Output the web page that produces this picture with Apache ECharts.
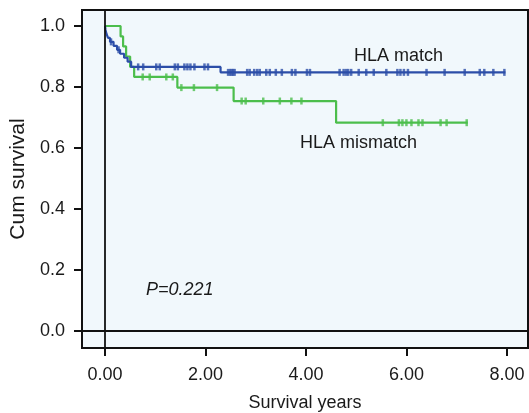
<!DOCTYPE html>
<html>
<head>
<meta charset="utf-8">
<script src="https://cdn.jsdelivr.net/npm/echarts@6/dist/echarts.min.js"></script>
<style>html,body{margin:0;padding:0;background:#fff}#c{width:529px;height:413px}</style>
</head>
<body>
<div id="c"></div>
<script>
// ---- data ----
var xTicks = [0, 2, 4, 6, 8];
var yTicks = [0, 0.2, 0.4, 0.6, 0.8, 1.0];

// HLA match: event times and survival after each event
var matchTimes = [0, 0.01, 0.03, 0.06, 0.10, 0.17, 0.24, 0.30, 0.38, 0.45, 0.52, 2.30];
var matchSurv  = [1.0, 0.987, 0.974, 0.961, 0.948, 0.935, 0.922, 0.909, 0.896, 0.883, 0.866, 0.848];
var matchEnd = 7.97;
var matchCensor = [0.12, 0.27, 0.66, 0.76, 1.02, 1.09, 1.39, 1.45, 1.58, 1.64, 1.70, 1.78, 1.98, 2.05,
  2.45, 2.49, 2.52, 2.55, 2.58, 2.83, 2.88, 2.97, 3.03, 3.08, 3.21, 3.28, 3.40, 3.52, 3.72, 3.79,
  4.02, 4.08, 4.67, 4.75, 4.80, 4.84, 4.90, 5.05, 5.20, 5.35, 5.60, 5.82, 5.88, 5.95, 6.03,
  6.40, 6.76, 7.16, 7.46, 7.55, 7.73, 7.95];

// HLA mismatch
var mismatchTimes = [0, 0.31, 0.36, 0.42, 0.50, 0.58, 1.44, 2.56, 4.60];
var mismatchSurv  = [1.0, 0.966, 0.933, 0.900, 0.866, 0.833, 0.798, 0.754, 0.683];
var mismatchEnd = 7.22;
var mismatchCensor = [0.75, 0.89, 1.22, 1.35, 1.52, 1.77, 2.23, 2.72, 2.80, 3.15, 3.48, 3.71, 3.91,
  5.53, 5.85, 5.92, 6.00, 6.10, 6.24, 6.32, 6.68, 6.80, 7.20];

var matchColor = '#2c4ea8';
var mismatchColor = '#4cbe4c';

function stepData(times, surv, end) {
  var d = [];
  for (var i = 0; i < times.length; i++) d.push([times[i], surv[i]]);
  d.push([end, surv[surv.length - 1]]);
  return d;
}
function survAt(times, surv, t) {
  var s = surv[0];
  for (var i = 0; i < times.length; i++) { if (times[i] <= t) s = surv[i]; }
  return s;
}
function censorData(times, surv, cens) {
  return cens.map(function (t) { return [t, survAt(times, surv, t)]; });
}

var FONT = 'Liberation Sans, Arial, sans-serif';
var TXT = '#1a1a1a';
var chart = echarts.init(document.getElementById('c'), null, {renderer: 'canvas'});
chart.setOption({
  animation: false,
  grid: {left: 82, right: 1, top: 10, bottom: 65, show: true, backgroundColor: '#f1f8fc',
         borderColor: '#111', borderWidth: 2, outerBoundsMode: 'none', containLabel: false},
  xAxis: {
    type: 'value', min: -0.458, max: 8.42,
    name: 'Survival years', nameLocation: 'middle', nameGap: 46,
    nameTextStyle: {fontFamily: FONT, fontSize: 18, color: TXT},
    axisLine: {show: true, onZero: false, lineStyle: {color: '#111', width: 2}},
    axisTick: {show: true, inside: false, length: 8, lineStyle: {color: '#111', width: 2}, customValues: xTicks},
    axisLabel: {customValues: xTicks, margin: 18, fontFamily: FONT, fontSize: 18, color: TXT,
                formatter: function (v) { return v.toFixed(2); }},
    splitLine: {show: false}
  },
  yAxis: {
    type: 'value', min: -0.0557, max: 1.0525,
    name: 'Cum survival', nameLocation: 'middle', nameGap: 52, nameRotate: 90,
    nameTextStyle: {fontFamily: FONT, fontSize: 21, color: TXT},
    axisLine: {show: true, onZero: false, lineStyle: {color: '#111', width: 2}},
    axisTick: {show: true, inside: false, length: 8, lineStyle: {color: '#111', width: 2}, customValues: yTicks},
    axisLabel: {customValues: yTicks, margin: 17, fontFamily: FONT, fontSize: 18, color: TXT,
                formatter: function (v) { return v.toFixed(1); }},
    splitLine: {show: false}
  },
  series: [
    {type: 'line', data: [], silent: true, z: 1,
     markLine: {silent: true, symbol: 'none', label: {show: false},
       lineStyle: {color: '#111', width: 1.8, type: 'solid'},
       data: [{xAxis: 0}, {yAxis: 0}]}},
    {name: 'HLA mismatch', type: 'line', step: 'end', showSymbol: false, z: 3,
     data: stepData(mismatchTimes, mismatchSurv, mismatchEnd),
     lineStyle: {color: mismatchColor, width: 2.2}, itemStyle: {color: mismatchColor}},
    {type: 'scatter', symbol: 'rect', symbolSize: [2.5, 7], z: 3,
     data: censorData(mismatchTimes, mismatchSurv, mismatchCensor), itemStyle: {color: mismatchColor}},
    {name: 'HLA match', type: 'line', step: 'end', showSymbol: false, z: 4,
     data: stepData(matchTimes, matchSurv, matchEnd),
     lineStyle: {color: matchColor, width: 2.2}, itemStyle: {color: matchColor}},
    {type: 'scatter', symbol: 'rect', symbolSize: [2.5, 7], z: 4,
     data: censorData(matchTimes, matchSurv, matchCensor), itemStyle: {color: matchColor}}
  ],
  graphic: [
    {type: 'text', left: 354, top: 47, style: {text: 'HLA match', font: '18px ' + FONT, fill: TXT}},
    {type: 'text', left: 300, top: 134, style: {text: 'HLA mismatch', font: '18px ' + FONT, fill: TXT}},
    {type: 'text', left: 146, top: 281, style: {text: 'P=0.221', font: 'italic 18px ' + FONT, fill: TXT}}
  ]
});
</script>
</body>
</html>
